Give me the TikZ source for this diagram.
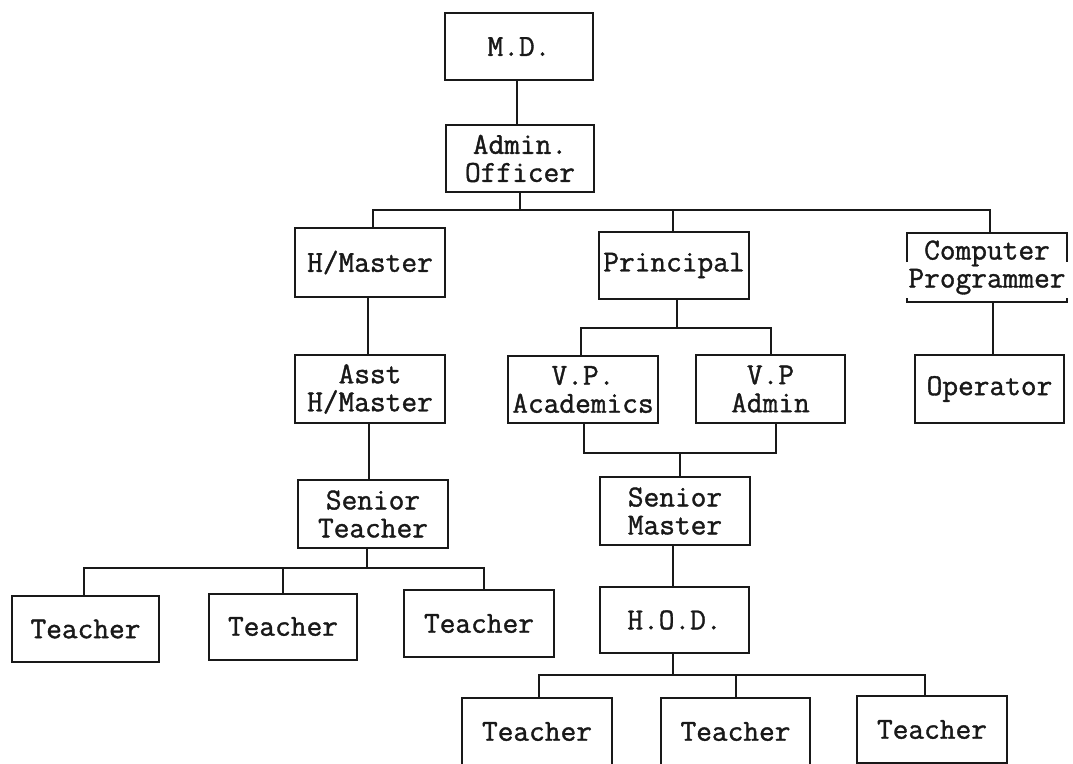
\documentclass[tikz,border=0pt]{standalone}
\usepackage{fontspec}
\newfontfamily\chartfont{Latin Modern Mono}[FakeBold=1.2]
\definecolor{ink}{rgb}{0.1,0.1,0.1}
\tikzset{
  orgbox/.style={draw=ink, line width=2pt, rectangle, inner sep=0pt,
    minimum width=150pt, minimum height=67pt, align=center, text=ink,
    font={\chartfont\bfseries\fontsize{30.5pt}{28pt}\selectfont}},
  openbox/.style={orgbox, draw=none},
  link/.style={draw=ink, line width=2pt},
}
\begin{document}
\begin{tikzpicture}[x=1pt, y=-1pt]
  \useasboundingbox (0,0) rectangle (1073,763);
  \fill[white] (0,0) rectangle (1073,763);
  \clip (0,0) rectangle (1073,763);

  % top of the chart
  \node[orgbox, minimum width=148pt] (md) at (519,46.5) {M.D.};
  \node[orgbox, minimum width=148pt] (admin) at (520,158.5) {Admin.\\Officer};

  % second level
  \node[orgbox, minimum height=69pt] (hm) at (370,262.5) {H/Master};
  \node[orgbox] (prin) at (674,265.5) {Principal};
  \node[openbox] (comp) at (987,267.5) {Computer\\Programmer};
  \node[orgbox, minimum width=149pt, minimum height=68pt] (oper) at (989.5,389) {Operator};

  % head master branch
  \node[orgbox, minimum height=68pt] (asst) at (370,389) {Asst\\H/Master};
  \node[orgbox, minimum height=68pt] (st) at (373,514) {Senior\\Teacher};
  \node[orgbox, minimum width=147pt, minimum height=66pt] (t1) at (85.5,629) {Teacher};
  \node[orgbox, minimum width=148pt, minimum height=66pt] (t2) at (283,626.5) {Teacher};
  \node[orgbox] (t3) at (479,623.5) {Teacher};

  % principal branch
  \node[orgbox] (vpa) at (583,389.5) {V.P.\\Academics};
  \node[orgbox, minimum width=149pt, minimum height=68pt] (vpd) at (770.5,389) {V.P\\Admin};
  \node[orgbox, minimum height=68pt] (sm) at (675,511) {Senior\\Master};
  \node[orgbox, minimum width=149pt, minimum height=66pt] (hod) at (674.5,620) {H.O.D.};
  \node[orgbox] (t4) at (537,731.5) {Teacher};
  \node[orgbox, minimum width=149pt] (t5) at (735.5,731.5) {Teacher};
  \node[orgbox] (t6) at (932,729.5) {Teacher};

  % broken frame of the programmer box
  \draw[link] ([yshift=-29pt]comp.north west) -- (comp.north west)
    -- (comp.north east) -- ([yshift=-29pt]comp.north east);
  \draw[link] ([yshift=4pt]comp.south west) -- (comp.south west)
    -- (comp.south east) -- ([yshift=4pt]comp.south east);

  % connectors
  \coordinate (busA) at (520,210);
  \coordinate (busB) at (677,328);
  \coordinate (busC) at (680,453);
  \coordinate (busD) at (367,568);
  \coordinate (busE) at (673,675);

  \draw[link] ([xshift=-2pt]md.south) -- ([xshift=-2pt]md.south |- admin.north);
  \draw[link] (admin.south) -- (busA);
  \draw[link] ([xshift=3pt]hm.north) |- (busA) -| ([xshift=3pt]comp.north);
  \draw[link] ([xshift=-1pt]prin.north) -- ([xshift=-1pt]prin.north |- busA);

  \draw[link] ([xshift=-2pt]hm.south) -- ([xshift=-2pt]hm.south |- asst.north);
  \draw[link] ([xshift=-1pt]asst.south) -- ([xshift=-1pt]asst.south |- st.north);
  \draw[link] ([xshift=-6pt]st.south) -- (busD);
  \draw[link] ([xshift=-2pt]t1.north) |- (busD) -| ([xshift=5pt]t3.north);
  \draw[link] (t2.north) -- (t2.north |- busD);

  \draw[link] ([xshift=3pt]prin.south) -- (busB);
  \draw[link] ([xshift=-2pt]vpa.north) |- (busB) -| (vpd.north);
  \draw[link] ([xshift=1pt]vpa.south) |- (busC) -| ([xshift=5pt]vpd.south);
  \draw[link] (busC) -- (busC |- sm.north);
  \draw[link] ([xshift=-2pt]sm.south) -- ([xshift=-2pt]sm.south |- hod.north);
  \draw[link] ([xshift=-1.5pt]hod.south) -- (busE);
  \draw[link] ([xshift=2pt]t4.north) |- (busE) -| ([xshift=-7pt]t6.north);
  \draw[link] (t5.north) -- (t5.north |- busE);

  \draw[link] ([xshift=6pt]comp.south) -- ([xshift=6pt]comp.south |- oper.north);
\end{tikzpicture}
\end{document}
